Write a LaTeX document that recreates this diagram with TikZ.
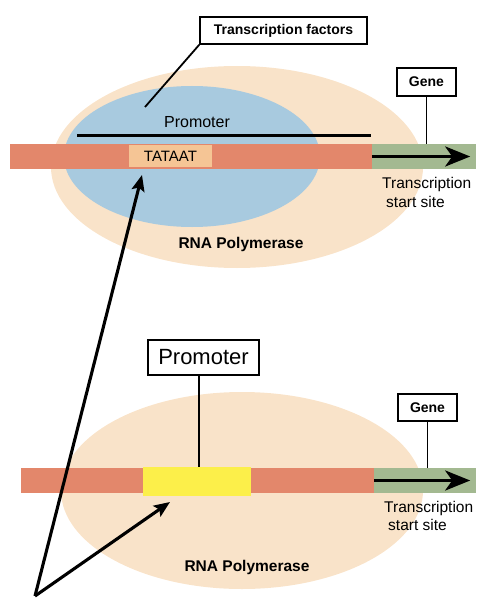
\documentclass[tikz,border=0pt]{standalone}
\usepackage{fontspec}
\setmainfont{Liberation Sans}
\usetikzlibrary{arrows.meta,shapes.geometric}
\definecolor{peach}{HTML}{F9E3C9}
\definecolor{tfblue}{HTML}{A8CADF}
\definecolor{salmon}{HTML}{E3876B}
\definecolor{tatabox}{HTML}{F5C595}
\definecolor{genegreen}{HTML}{A3B991}
\definecolor{promyellow}{HTML}{FCEF4A}
\tikzset{
  blob/.style={ellipse,inner sep=0pt,draw=none},
  bar/.style={rectangle,inner sep=0pt,draw=none},
  labelbox/.style={rectangle,draw=black,line width=1.6pt,fill=white,inner sep=0pt},
  boldtxt/.style={font=\fontsize{14}{16}\selectfont\bfseries},
  plaintxt/.style={font=\fontsize{15.5}{18}\selectfont},
  pointer/.style={line width=1.8pt},
  genearrow/.style={line width=3.5pt,-{Stealth[length=25pt,width=20pt,inset=7pt]}},
  longarrow/.style={line width=3.1pt,-{Stealth[length=16pt,width=13pt,inset=3pt]}}
}
\begin{document}
\begin{tikzpicture}[x=1pt,y=-1pt]
\useasboundingbox (0,0) rectangle (499,599);
% ---------------- top panel ----------------
\node[blob,fill=peach,minimum width=372pt,minimum height=202pt] (pol1) at (237,167) {};
\node[blob,fill=tfblue,minimum width=256pt,minimum height=141pt] (tfblob) at (192,156.5) {};
\node[font=\fontsize{16}{18}\selectfont] (prom1) at (197,122) {Promoter};
\coordinate (pl1) at (77,135);
\coordinate (pl2) at (371,135);
\draw[line width=3pt] (pl1) -- (pl2);
\node[bar,fill=salmon,minimum width=362pt,minimum height=25pt] (dna1) at (191,156.5) {};
\node[bar,fill=genegreen,minimum width=104pt,minimum height=25pt] (gbar1) at (424,156.5) {};
\node[bar,fill=tatabox,minimum width=83pt,minimum height=22pt,font=\fontsize{15}{17}\selectfont] (tata) at (170.5,156) {TATAAT};
\draw[genearrow] (gbar1.west) -- ([xshift=-6pt]gbar1.east);
\node[labelbox,boldtxt,minimum width=167pt,minimum height=27pt] (tf) at (283.5,30.5) {Transcription factors};
\coordinate (tfpt) at (145,107);
\draw[pointer] (tf.south west) -- (tfpt);
\node[labelbox,boldtxt,minimum width=59pt,minimum height=28pt] (gene1) at (426.5,82) {Gene};
\draw[pointer] (gene1.south) -- (gene1.south |- gbar1.north);
\node[plaintxt,anchor=base west,inner sep=0pt] (tss1a) at (382,188) {Transcription};
\node[plaintxt,anchor=base west,inner sep=0pt] (tss1b) at (386,207) {start site};
\node[font=\fontsize{15.5}{18}\selectfont\bfseries] (rna1) at (241,244) {RNA Polymerase};
% ---------------- bottom panel ----------------
\node[blob,fill=peach,minimum width=362pt,minimum height=197pt] (pol2) at (242,490.5) {};
\node[bar,fill=salmon,minimum width=353pt,minimum height=25pt] (dna2) at (197.5,480.5) {};
\node[bar,fill=genegreen,minimum width=102pt,minimum height=25pt] (gbar2) at (425,480.5) {};
\node[bar,fill=promyellow,minimum width=108pt,minimum height=29pt] (ybox) at (197,481.5) {};
\draw[genearrow] (gbar2.west) -- ([xshift=-6pt]gbar2.east);
\node[labelbox,font=\fontsize{22}{24}\selectfont,minimum width=111pt,minimum height=35pt] (prom2) at (203.5,357.5) {Promoter};
\coordinate (p2top) at (199,375);
\coordinate (p2bot) at (199,467);
\draw[pointer] (p2top) -- (p2bot);
\node[labelbox,boldtxt,minimum width=59pt,minimum height=27pt] (gene2) at (427.5,407.5) {Gene};
\draw[pointer] (gene2.south) -- (gene2.south |- gbar2.north);
\node[plaintxt,anchor=base west,inner sep=0pt] (tss2a) at (384,512) {Transcription};
\node[plaintxt,anchor=base west,inner sep=0pt] (tss2b) at (388,530) {start site};
\node[font=\fontsize{15.5}{18}\selectfont\bfseries] (rna2) at (247,567) {RNA Polymerase};
% ---------------- pointing arrows ----------------
\coordinate (src) at (35,596);
\coordinate (tip1) at (142,175);
\coordinate (tip2) at (170,502);
\draw[longarrow] (src) -- (tip1);
\draw[longarrow] (src) -- (tip2);
\end{tikzpicture}
\end{document}
